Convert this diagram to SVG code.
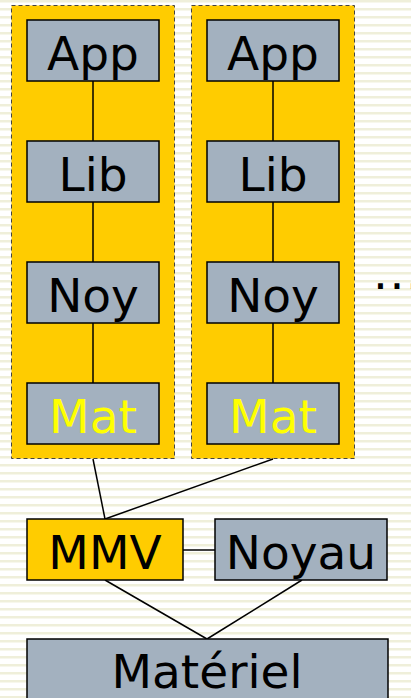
<svg xmlns="http://www.w3.org/2000/svg" width="411" height="698" viewBox="0 0 411 698">
  <defs>
    <pattern id="stripes" width="8" height="8" patternUnits="userSpaceOnUse">
      <rect width="8" height="8" fill="#ffffff"/>
      <rect y="0" width="8" height="2" fill="#efefda"/>
      <rect y="2" width="8" height="1" fill="#f7f7ec"/>
    </pattern>
    <style>
      .vm { fill: #ffcc00; stroke: #444444; stroke-width: 1; stroke-dasharray: 4 3; }
      .box { fill: #a3b1bf; stroke: #000000; stroke-width: 1.5; }
      .gold { fill: #ffcc00; stroke: #000000; stroke-width: 1.5; }
      .lbl { font-family: "DejaVu Sans", sans-serif; font-size: 47px; text-anchor: middle; fill: #000000; }
      .hw { fill: #ffff00; }
      .wire { stroke: #000000; stroke-width: 1.5; fill: none; }
    </style>
  </defs>

  <rect width="411" height="698" fill="url(#stripes)"/>

  <!-- virtual machine containers -->
  <g id="vm1">
    <rect class="vm" x="11.5" y="5.5" width="163" height="453"/>
  </g>
  <g id="vm2">
    <rect class="vm" x="191.5" y="5.5" width="163" height="453"/>
  </g>

  <!-- connectors -->
  <g id="connectors">
    <line class="wire" x1="93" y1="81" x2="93" y2="141"/>
    <line class="wire" x1="93" y1="202" x2="93" y2="262"/>
    <line class="wire" x1="93" y1="323" x2="93" y2="383"/>
    <line class="wire" x1="273" y1="81" x2="273" y2="141"/>
    <line class="wire" x1="273" y1="202" x2="273" y2="262"/>
    <line class="wire" x1="273" y1="323" x2="273" y2="383"/>
    <line class="wire" x1="93" y1="459" x2="105" y2="519"/>
    <line class="wire" x1="273" y1="459" x2="105" y2="519"/>
    <line class="wire" x1="183" y1="550" x2="215" y2="550"/>
    <line class="wire" x1="105" y1="580" x2="207" y2="639"/>
    <line class="wire" x1="302" y1="580" x2="207" y2="639"/>
  </g>

  <!-- first stack -->
  <g id="app1"><rect class="box" x="27" y="20" width="132" height="61"/><text class="lbl" x="93" y="70">App</text></g>
  <g id="lib1"><rect class="box" x="27" y="141" width="132" height="61"/><text class="lbl" x="93" y="191">Lib</text></g>
  <g id="noy1"><rect class="box" x="27" y="262" width="132" height="61"/><text class="lbl" x="93" y="312">Noy</text></g>
  <g id="mat1"><rect class="box" x="27" y="383" width="132" height="61"/><text class="lbl hw" x="93" y="433">Mat</text></g>

  <!-- second stack -->
  <g id="app2"><rect class="box" x="207" y="20" width="132" height="61"/><text class="lbl" x="273" y="70">App</text></g>
  <g id="lib2"><rect class="box" x="207" y="141" width="132" height="61"/><text class="lbl" x="273" y="191">Lib</text></g>
  <g id="noy2"><rect class="box" x="207" y="262" width="132" height="61"/><text class="lbl" x="273" y="312">Noy</text></g>
  <g id="mat2"><rect class="box" x="207" y="383" width="132" height="61"/><text class="lbl hw" x="273" y="433">Mat</text></g>

  <!-- more machines -->
  <g id="more"><text class="lbl" x="373" y="289" style="text-anchor:start;letter-spacing:1.5px">...</text></g>

  <!-- host layer -->
  <g id="mmv"><rect class="gold" x="27" y="519" width="156" height="61"/><text class="lbl" x="105" y="569">MMV</text></g>
  <g id="noyau"><rect class="box" x="215" y="519" width="172" height="61"/><text class="lbl" x="301" y="569">Noyau</text></g>
  <g id="materiel"><rect class="box" x="27" y="639" width="361" height="70"/><text class="lbl" x="207" y="688">Matériel</text></g>
</svg>
